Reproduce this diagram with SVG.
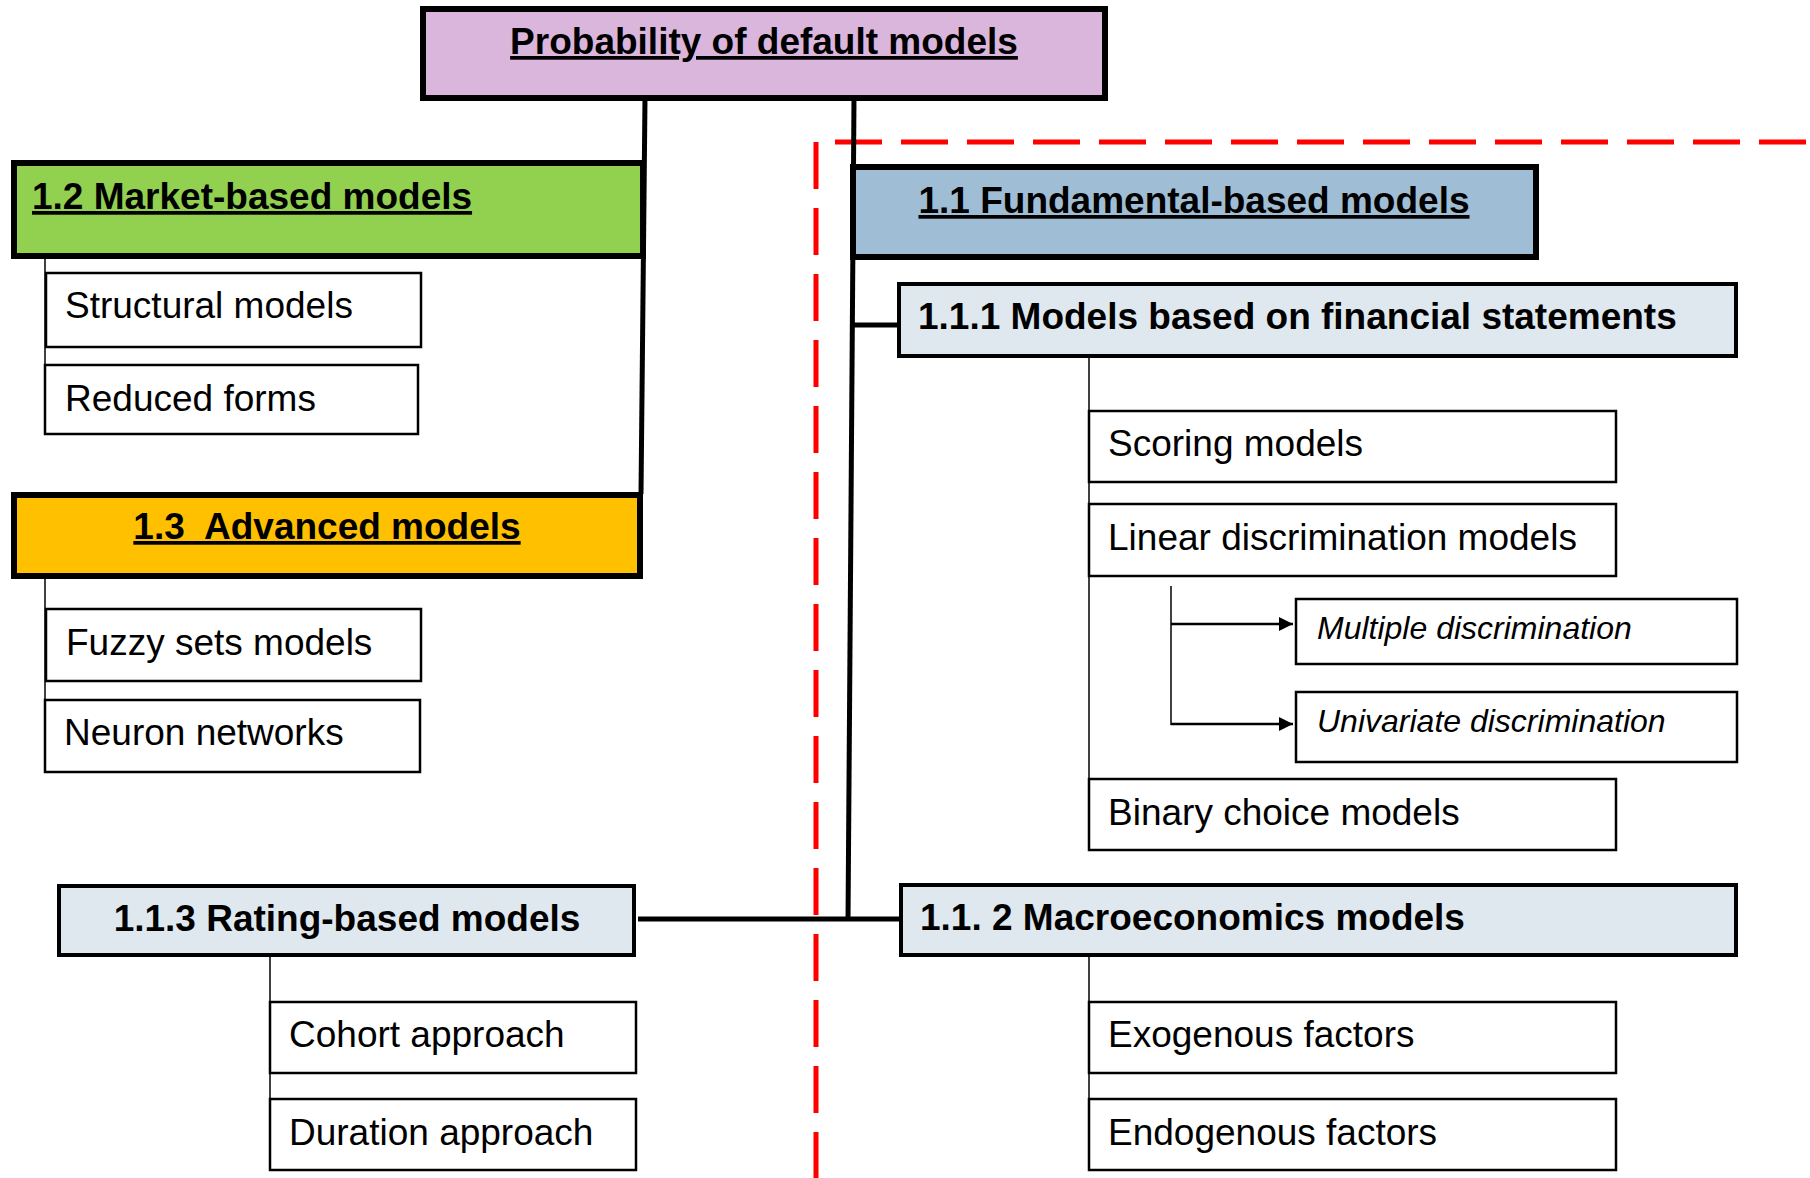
<svg xmlns="http://www.w3.org/2000/svg" width="1810" height="1178" viewBox="0 0 1810 1178">
<defs>
<style>
text{font-family:"Liberation Sans",Arial,sans-serif;fill:#000}
.t{font-size:37px}
.b{font-size:37px;font-weight:bold}
.u{text-decoration:underline}
.i{font-size:32px;font-style:italic}
.m{text-anchor:middle}
.box{fill:#fff;stroke:#000;stroke-width:2.5}
.hd{stroke:#000;stroke-width:6}
.sub{stroke:#000;stroke-width:4;fill:#DEE8EE}
.thick{stroke:#000;stroke-width:5;fill:none}
.thin{stroke:#000;stroke-width:1.5;fill:none}
.arr{stroke:#000;stroke-width:2.5;fill:none;marker-end:url(#ah)}
.red{stroke:#FF0000;stroke-width:5;fill:none;stroke-dasharray:47 19;stroke-dashoffset:1}
</style>
<marker id="ah" viewBox="0 0 10 10" refX="10" refY="5" markerUnits="userSpaceOnUse" markerWidth="15" markerHeight="14" orient="auto">
<path d="M0,0 L10,5 L0,10 Z" fill="#000"/>
</marker>
</defs>
<rect width="1810" height="1178" fill="#fff"/>

<g id="connectors">
<path class="red" d="M816,1178 V142 H1810"/>
<line class="thick" x1="645" y1="98" x2="641" y2="494"/>
<line class="thick" x1="854" y1="98" x2="848" y2="921"/>
<line class="thick" x1="851" y1="325" x2="899" y2="325"/>
<line class="thick" x1="638" y1="919" x2="901" y2="919"/>
<line class="thin" x1="45" y1="256" x2="45" y2="366"/>
<line class="thin" x1="45" y1="576" x2="45" y2="700"/>
<line class="thin" x1="1089" y1="358" x2="1089" y2="779"/>
<line class="thin" x1="1171" y1="586" x2="1171" y2="725"/>
<line class="arr" x1="1171" y1="624" x2="1293" y2="624"/>
<line class="arr" x1="1171" y1="724" x2="1293" y2="724"/>
<line class="thin" x1="1089" y1="957" x2="1089" y2="1099"/>
<line class="thin" x1="270" y1="957" x2="270" y2="1099"/>
</g>

<g id="n-root">
<rect class="hd" x="423" y="9" width="682" height="89" fill="#DAB5DC"/>
<text class="b u m" x="764" y="54">Probability of default models</text>
</g>

<g id="n-market">
<rect class="hd" x="14" y="163" width="629" height="93" fill="#92D050"/>
<text class="b u" x="32" y="209">1.2 Market-based models</text>
</g>
<g id="n-structural">
<rect class="box" x="46" y="273" width="375" height="74"/>
<text class="t" x="65" y="318">Structural models</text>
</g>
<g id="n-reduced">
<rect class="box" x="45" y="365" width="373" height="69"/>
<text class="t" x="65" y="411">Reduced forms</text>
</g>

<g id="n-advanced">
<rect class="hd" x="14" y="495" width="626" height="81" fill="#FFC000"/>
<text class="b u m" x="327" y="539" xml:space="preserve">1.3  Advanced models</text>
</g>
<g id="n-fuzzy">
<rect class="box" x="46" y="609" width="375" height="72"/>
<text class="t" x="66" y="655">Fuzzy sets models</text>
</g>
<g id="n-neuron">
<rect class="box" x="45" y="700" width="375" height="72"/>
<text class="t" x="64" y="745">Neuron networks</text>
</g>

<g id="n-fundamental">
<rect class="hd" x="853" y="167" width="683" height="90" fill="#9FBED5"/>
<text class="b u m" x="1194" y="213">1.1 Fundamental-based models</text>
</g>
<g id="n-financial">
<rect class="sub" x="899" y="284" width="837" height="72"/>
<text class="b" x="918" y="329">1.1.1 Models based on financial statements</text>
</g>
<g id="n-scoring">
<rect class="box" x="1089" y="411" width="527" height="71"/>
<text class="t" x="1108" y="456">Scoring models</text>
</g>
<g id="n-linear">
<rect class="box" x="1089" y="504" width="527" height="72"/>
<text class="t" x="1108" y="550">Linear discrimination models</text>
</g>
<g id="n-multiple">
<rect class="box" x="1296" y="599" width="441" height="65"/>
<text class="i" x="1317" y="639">Multiple discrimination</text>
</g>
<g id="n-univariate">
<rect class="box" x="1296" y="692" width="441" height="70"/>
<text class="i" x="1317" y="732">Univariate discrimination</text>
</g>
<g id="n-binary">
<rect class="box" x="1089" y="779" width="527" height="71"/>
<text class="t" x="1108" y="825">Binary choice models</text>
</g>

<g id="n-macro">
<rect class="sub" x="901" y="885" width="835" height="70"/>
<text class="b" x="920" y="930">1.1. 2 Macroeconomics models</text>
</g>
<g id="n-exogenous">
<rect class="box" x="1089" y="1002" width="527" height="71"/>
<text class="t" x="1108" y="1047">Exogenous factors</text>
</g>
<g id="n-endogenous">
<rect class="box" x="1089" y="1099" width="527" height="71"/>
<text class="t" x="1108" y="1145">Endogenous factors</text>
</g>

<g id="n-rating">
<rect class="sub" x="59" y="886" width="575" height="69"/>
<text class="b m" x="347" y="931">1.1.3 Rating-based models</text>
</g>
<g id="n-cohort">
<rect class="box" x="270" y="1002" width="366" height="71"/>
<text class="t" x="289" y="1047">Cohort approach</text>
</g>
<g id="n-duration">
<rect class="box" x="270" y="1099" width="366" height="71"/>
<text class="t" x="289" y="1145">Duration approach</text>
</g>
</svg>
